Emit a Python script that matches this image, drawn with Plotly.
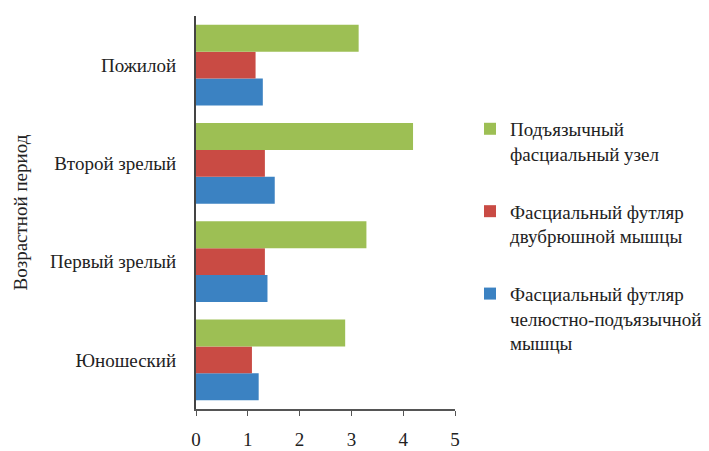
import plotly.graph_objects as go

categories = ["Юношеский", "Первый зрелый", "Второй зрелый", "Пожилой"]
series_names = [
    "Фасциальный футляр<br>челюстно-подъязычной<br>мышцы",
    "Фасциальный футляр<br>двубрюшной мышцы",
    "Подъязычный<br>фасциальный узел",
]
blue_vals = [1.21, 1.38, 1.52, 1.29]
red_vals = [1.08, 1.33, 1.33, 1.15]
green_vals = [2.88, 3.29, 4.19, 3.14]
colors = ["#3b82c2", "#c94b44", "#9dbf54"]
x_ticks = [0, 1, 2, 3, 4, 5]

FONT = "'Liberation Serif', 'DejaVu Serif', serif"
TXT = "#222222"

fig = go.Figure()
for i, (name, vals) in enumerate(zip(series_names, [blue_vals, red_vals, green_vals])):
    fig.add_trace(go.Bar(
        y=categories, x=vals, name=name, orientation="h",
        marker=dict(color=colors[i], line=dict(width=0)),
        legendgroup=f"g{i}", legendrank=3 - i,
    ))

fig.update_layout(
    width=709, height=451,
    margin=dict(l=196, r=254, t=16, b=42, autoexpand=False),
    paper_bgcolor="white", plot_bgcolor="white",
    barmode="group", bargap=0.18, bargroupgap=0,
    font=dict(family=FONT, size=19, color=TXT),
    showlegend=True,
    legend=dict(
        x=(470 - 196) / 259, xanchor="left", y=0.761, yanchor="top",
        traceorder="grouped", tracegroupgap=30,
        valign="top", font=dict(family=FONT, size=19, color=TXT),
        bgcolor="rgba(0,0,0,0)",
    ),
    xaxis=dict(
        range=[0, 5], tickvals=x_ticks, ticks="outside", ticklen=5,
        tickcolor="#555555", showline=True, linecolor="#555555", linewidth=1.5,
        showgrid=False, zeroline=False, fixedrange=True,
        tickfont=dict(family=FONT, size=19, color=TXT),
        ticklabelstandoff=7,
    ),
    yaxis=dict(
        categoryorder="array", categoryarray=categories,
        showline=True, linecolor="#444444", linewidth=2,
        showgrid=False, zeroline=False, ticks="",
        tickfont=dict(family=FONT, size=19, color=TXT),
        ticklabelstandoff=14,
    ),
    annotations=[dict(
        text="Возрастной период", textangle=-90,
        xref="paper", yref="paper", x=(20 - 196) / 259, y=0.5,
        xanchor="center", yanchor="middle", showarrow=False,
        font=dict(family=FONT, size=19, color=TXT),
    )],
)

fig.write_html("out.html")
